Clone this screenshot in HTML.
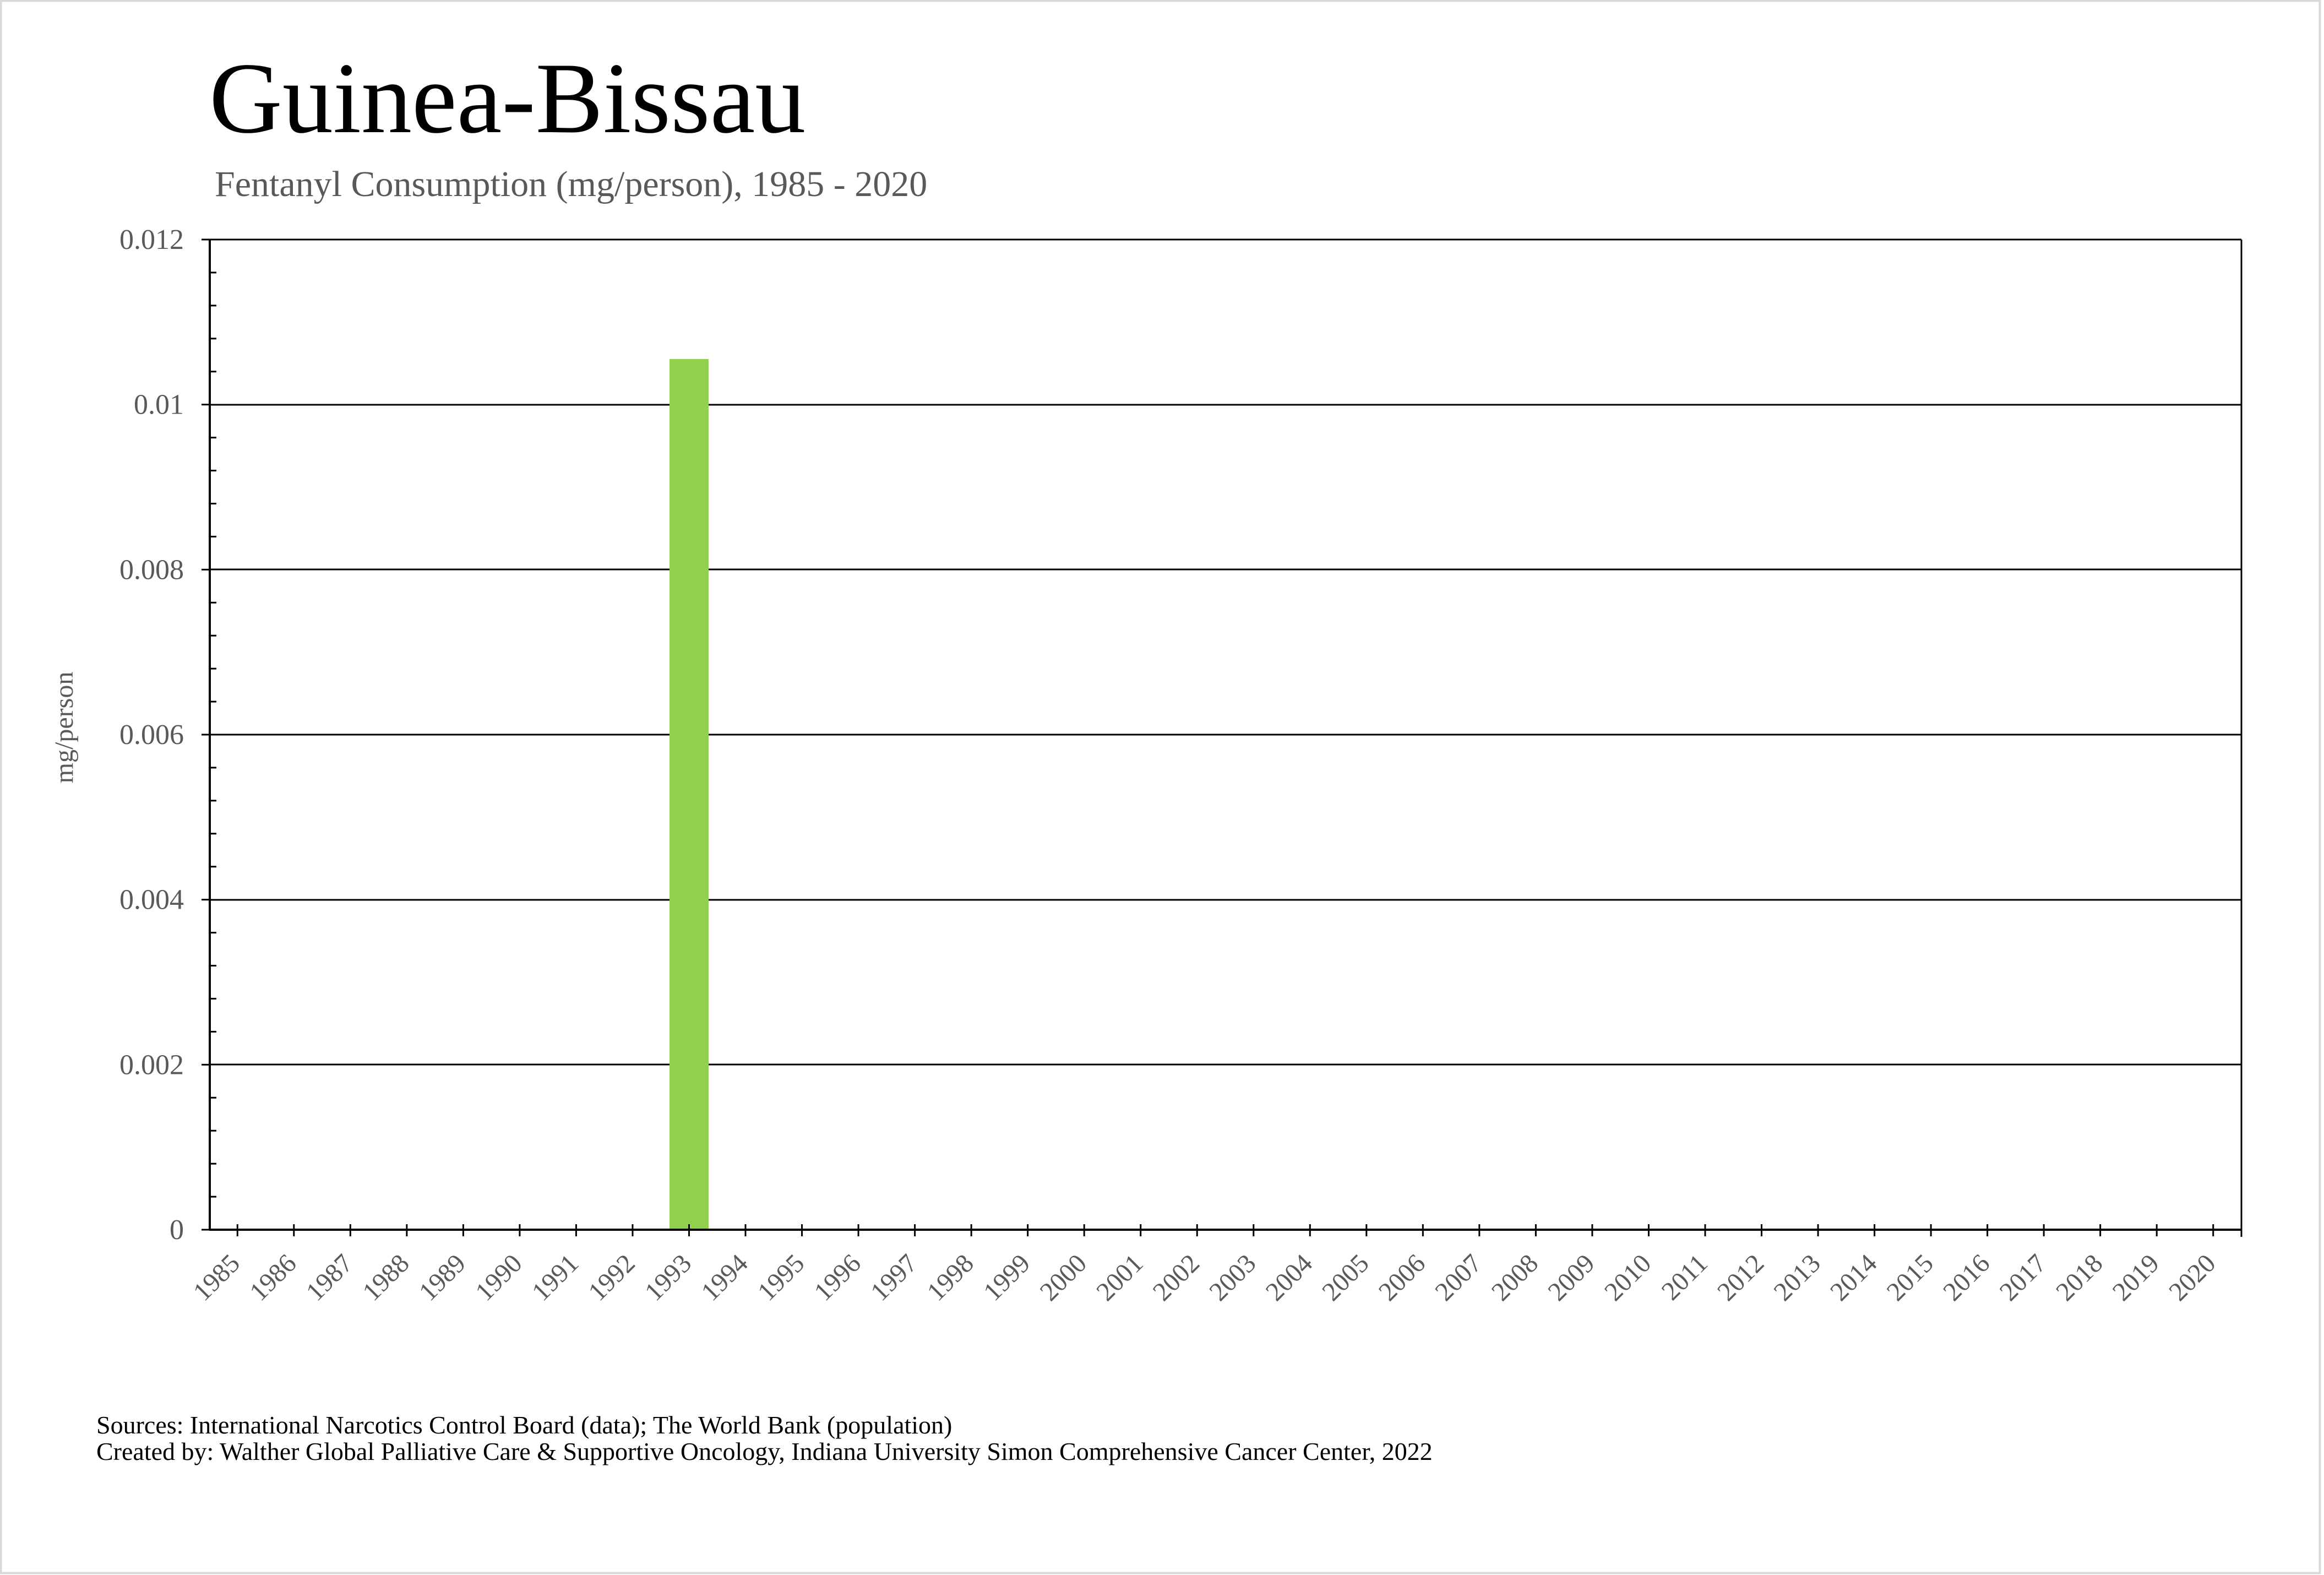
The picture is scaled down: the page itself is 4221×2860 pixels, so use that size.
<!DOCTYPE html>
<html><head><meta charset="utf-8"><style>
html,body{margin:0;padding:0;background:#fff;}
svg{display:block;}
</style></head><body>
<svg width="4221" height="2860" viewBox="0 0 4221 2860" xmlns="http://www.w3.org/2000/svg" font-family="'Liberation Serif', serif">
<rect x="1.5" y="1.5" width="4212" height="2855" fill="#fff" stroke="#d9d9d9" stroke-width="4"/>
<text x="380" y="240" font-size="184" fill="#000">Guinea-Bissau</text>
<text x="390" y="356" font-size="66" fill="#595959">Fentanyl Consumption (mg/person), 1985 - 2020</text>
<text transform="translate(132,1321) rotate(-90)" text-anchor="middle" font-size="48" fill="#595959">mg/person</text>
<g stroke="#000" stroke-width="3">
<line x1="380" y1="435" x2="4071" y2="435"/>
<line x1="380" y1="735" x2="4071" y2="735"/>
<line x1="380" y1="1034" x2="4071" y2="1034"/>
<line x1="380" y1="1334" x2="4071" y2="1334"/>
<line x1="380" y1="1634" x2="4071" y2="1634"/>
<line x1="380" y1="1933" x2="4071" y2="1933"/>
<line x1="4071" y1="435" x2="4071" y2="2246"/>
</g>
<rect x="1216" y="652" width="71" height="1581" fill="#92d050"/>
<g stroke="#000" stroke-width="4">
<line x1="380" y1="2233" x2="4072" y2="2233"/>
<line x1="381" y1="435" x2="381" y2="2233"/>
</g>
<g id="yt" stroke="#000" stroke-width="3"></g>
<g id="xt" stroke="#000" stroke-width="3"></g>
<g id="yl" font-size="52" fill="#595959" text-anchor="end"></g>
<g id="xl" font-size="48" fill="#595959" text-anchor="end"></g>
<text x="175" y="2603" font-size="46" fill="#000">Sources: International Narcotics Control Board (data); The World Bank (population)</text>
<text x="175" y="2651" font-size="46" fill="#000">Created by: Walther Global Palliative Care &amp; Supportive Oncology, Indiana University Simon Comprehensive Cancer Center, 2022</text>
<script>
(function(){
var NS="http://www.w3.org/2000/svg";
function el(p,t,a,txt){var e=document.createElementNS(NS,t);for(var k in a)e.setAttribute(k,a[k]);if(txt!==undefined)e.textContent=txt;document.getElementById(p).appendChild(e);}
var yTop=435,yBot=2233,h=yBot-yTop;
for(var i=0;i<=30;i++){var y=yBot-i*h/30;
 if(i%5==0){el("yt","line",{x1:366,y1:y,x2:381,y2:y});}
 else el("yt","line",{x1:381,y1:y,x2:393,y2:y});}
var labs=["0","0.002","0.004","0.006","0.008","0.01","0.012"];
for(var i=0;i<7;i++){el("yl","text",{x:334,y:yBot-i*h/6+17},labs[i]);}
var L=380,R=4071,w=(R-L)/36;
for(var i=0;i<36;i++){var x=L+(i+0.5)*w;
 el("xt","line",{x1:x,y1:2223,x2:x,y2:2245});
 el("xl","text",{x:0,y:0,transform:"translate("+(x+7)+",2297) rotate(-45)"},String(1985+i));}
el("xt","line",{x1:R,y1:2223,x2:R,y2:2245});
})();
</script>
</svg>
</body></html>
